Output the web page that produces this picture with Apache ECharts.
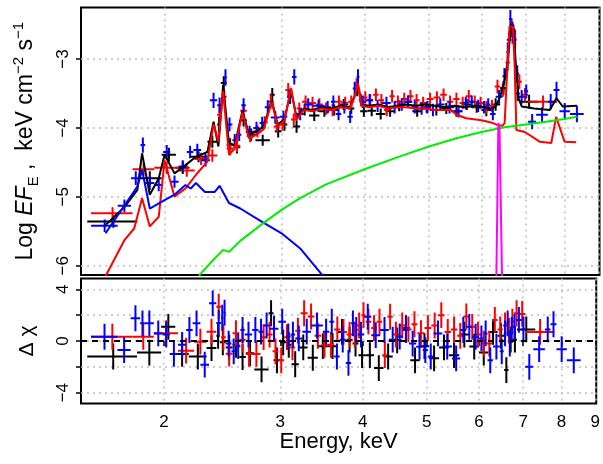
<!DOCTYPE html>
<html>
<head>
<meta charset="utf-8">
<script src="https://cdn.jsdelivr.net/npm/echarts@6.0.0/dist/echarts.min.js"></script>
<style>
html, body { margin: 0; padding: 0; background: #fff; }
#main { width: 603px; height: 464px; }
</style>
</head>
<body>
<div id="main"></div>
<script>
// axis ranges / ticks
const eMin = 1.497, eMax = 9.03;
const xTicks = [2, 3, 4, 5, 6, 7, 8, 9];
const fluxTicks = [-6, -5, -4, -3];
const residTicks = [-4, -2, 0, 2, 4];
const residLabels = [-4, 0, 4];

// black data set: bin edges (keV), log EF_E, error, residual
const blackEdges = [1.53,1.82,1.98,2.08,2.18,2.32,2.40,2.43,2.48,2.54,
  2.60,2.66,2.74,2.88,2.93,3.00,3.06,3.12,3.20,3.30,
  3.42,3.54,3.66,3.78,3.86,3.94,4.04,4.16,4.30,4.44,
  4.58,4.72,4.88,5.04,5.22,5.40,5.60,5.80,6.00,6.20,
  6.40,6.55,6.65,6.75,6.85,7.30];
const blackFlux = [-5.36,-4.73,-4.39,-4.58,-4.42,-4.20,-3.95,-3.35,-4.25,-4.28,
  -3.89,-4.10,-4.18,-3.52,-4.05,-3.95,-3.55,-3.98,-3.74,-3.82,
  -3.76,-3.74,-3.66,-3.72,-3.45,-3.76,-3.75,-3.80,-3.76,-3.68,
  -3.62,-3.76,-3.70,-3.74,-3.72,-3.76,-3.66,-3.70,-3.74,-3.66,
  -3.42,-2.72,-2.62,-3.50,-3.62];
const blackErr = [0.09,0.10,0.10,0.09,0.08,0.09,0.11,0.10,0.10,0.09,
  0.09,0.09,0.08,0.10,0.09,0.09,0.10,0.09,0.08,0.08,
  0.08,0.08,0.08,0.08,0.09,0.08,0.08,0.08,0.08,0.08,
  0.08,0.08,0.08,0.08,0.08,0.08,0.08,0.08,0.09,0.09,
  0.10,0.12,0.12,0.11,0.10];
const blackResid = [-1.2,-0.9,1.1,-1.0,-1.2,-0.55,0.4,-0.1,-0.5,-0.3,
  -1.24,-0.94,-2.2,2.15,-1.5,-0.1,-0.3,-1.8,-0.5,-1.3,
  -0.4,-0.4,0.7,0.1,-0.2,-1.1,-1.1,-2.1,-1.2,0.05,
  1.0,-1.5,-0.4,-1.34,-0.5,-1.1,0.5,-0.43,-0.9,0.7,
  0.4,-2.25,0.1,0.1,0.9];

// red data set
const redEdges = [1.55,1.79,1.93,2.10,2.22,2.32,2.40,2.44,2.48,2.54,
  2.60,2.66,2.72,2.80,2.86,2.92,2.98,3.04,3.10,3.16,
  3.22,3.30,3.38,3.46,3.54,3.62,3.70,3.78,3.86,3.92,
  3.98,4.04,4.12,4.20,4.28,4.36,4.44,4.54,4.64,4.74,
  4.84,4.96,5.08,5.20,5.32,5.44,5.56,5.68,5.80,5.92,
  6.04,6.16,6.28,6.40,6.52,6.62,6.70,6.78,6.90,7.05,7.80];
const redFlux = [-5.24,-4.60,-4.58,-4.62,-4.45,-4.40,-3.81,-3.55,-4.30,-4.26,
  -3.75,-4.12,-4.05,-3.92,-3.62,-3.98,-3.95,-3.45,-3.88,-3.72,
  -3.62,-3.64,-3.66,-3.72,-3.74,-3.62,-3.64,-3.62,-3.38,-3.60,
  -3.56,-3.60,-3.52,-3.60,-3.74,-3.54,-3.62,-3.58,-3.54,-3.60,
  -3.64,-3.58,-3.56,-3.52,-3.62,-3.58,-3.64,-3.54,-3.62,-3.64,
  -3.70,-3.68,-3.40,-3.45,-3.05,-2.55,-2.72,-3.33,-3.52,-3.62];
const redErr = [0.09,0.09,0.09,0.09,0.09,0.09,0.11,0.10,0.10,0.09,
  0.09,0.09,0.09,0.09,0.10,0.09,0.09,0.10,0.09,0.09,
  0.09,0.09,0.09,0.09,0.09,0.09,0.09,0.09,0.10,0.09,
  0.09,0.09,0.09,0.09,0.09,0.09,0.09,0.09,0.09,0.09,
  0.09,0.09,0.09,0.09,0.09,0.09,0.09,0.09,0.09,0.09,
  0.09,0.09,0.10,0.10,0.12,0.14,0.14,0.11,0.10,0.09];
const redResid = [0.33,0.33,0.6,-0.75,-0.05,0.72,2.66,0.3,-0.98,0.6,
  0.1,-1.0,-1.0,0.3,0.5,-0.8,-1.5,0.3,-0.5,0.8,
  2.15,1.9,0.4,-0.3,-0.3,0.9,0.7,0.5,0.5,1.2,
  2.0,1.5,1.0,1.5,-1.1,1.88,0.5,1.2,0.9,1.3,
  0.6,1.0,1.2,2.0,0.7,0.9,0.4,1.9,1.1,0.5,
  -0.2,-0.2,1.63,0.9,1.2,0.8,1.5,2.15,2.1,0.7];

// blue data set
const blueEdges = [1.55,1.70,1.78,1.84,1.87,1.93,1.99,2.04,2.10,2.16,
  2.21,2.27,2.34,2.40,2.44,2.46,2.48,2.53,2.57,2.61,
  2.65,2.72,2.78,2.83,2.89,2.98,3.06,3.11,3.16,3.24,
  3.34,3.48,3.56,3.62,3.69,3.77,3.84,3.89,3.93,4.02,
  4.12,4.25,4.38,4.50,4.60,4.70,4.82,4.93,5.02,5.12,
  5.28,5.46,5.62,5.74,5.86,6.00,6.10,6.18,6.30,6.45,
  6.54,6.60,6.66,6.70,6.75,6.83,6.96,7.05,7.25,7.55,
  7.70,7.86,8.15,8.55];
const blueFlux = [-5.42,-5.13,-4.73,-4.25,-4.80,-4.83,-4.35,-4.78,-4.56,-4.35,
  -4.32,-4.47,-3.60,-3.67,-3.50,-3.27,-3.95,-4.18,-4.10,-3.67,
  -4.06,-4.00,-3.93,-3.70,-3.85,-3.84,-3.55,-3.26,-3.80,-3.66,
  -3.68,-3.70,-3.62,-3.80,-3.70,-3.84,-3.43,-3.26,-3.62,-3.60,
  -3.68,-3.64,-3.70,-3.66,-3.62,-3.70,-3.72,-3.70,-3.74,-3.66,
  -3.70,-3.76,-3.64,-3.62,-3.68,-3.70,-3.66,-3.80,-3.55,-3.25,
  -2.90,-2.42,-2.62,-2.70,-3.21,-3.55,-3.47,-3.91,-3.81,-3.62,
  -3.45,-3.76,-3.80];
const blueErr = [0.09,0.09,0.10,0.11,0.10,0.09,0.10,0.09,0.09,0.09,
  0.09,0.09,0.11,0.11,0.12,0.12,0.10,0.09,0.09,0.10,
  0.09,0.09,0.09,0.10,0.09,0.09,0.10,0.11,0.09,0.09,
  0.09,0.09,0.09,0.09,0.09,0.09,0.10,0.11,0.09,0.09,
  0.09,0.09,0.09,0.09,0.09,0.09,0.09,0.09,0.09,0.09,
  0.09,0.09,0.09,0.09,0.09,0.09,0.09,0.09,0.10,0.12,
  0.14,0.13,0.16,0.14,0.12,0.10,0.10,0.11,0.11,0.11,
  0.12,0.12,0.12];
const blueResid = [0.33,-0.7,1.76,1.37,1.37,0.59,0.5,-1.0,-0.3,0.85,
  1.37,-1.83,2.92,1.4,1.8,2.2,-0.2,-0.8,-0.4,0.85,
  0.5,0.85,0.72,1.2,0.95,1.5,0.35,0.5,0.2,0.72,
  1.2,0.72,1.5,-1.2,0.1,-1.7,1.37,0.85,0.5,1.88,
  0.45,0.85,0.1,0.35,0.85,-0.2,-0.45,-0.7,-1.2,0.59,
  -0.43,-1.35,0.85,1.1,0.33,0.2,0.59,-1.5,-0.43,-0.8,
  0.59,1.37,-0.2,0.85,1.1,1.63,0.9,-2.0,-0.63,0.9,
  1.3,-0.63,-1.5];

// model curves [keV, log EF_E]
const totalModel = [[1.63,-5.41],[1.74,-5.15],[1.82,-4.90],[1.85,-4.37],[1.90,-4.97],[1.96,-4.73],
  [2.00,-4.39],[2.07,-4.66],[2.15,-4.54],[2.23,-4.42],[2.32,-4.35],[2.37,-3.91],[2.41,-4.27],
  [2.45,-3.38],[2.50,-4.22],[2.55,-4.25],[2.62,-3.75],[2.68,-4.10],[2.75,-4.05],[2.82,-3.98],
  [2.90,-3.60],[2.96,-3.95],[3.03,-3.88],[3.10,-3.45],[3.16,-3.85],[3.24,-3.72],[3.34,-3.74],
  [3.44,-3.70],[3.56,-3.72],[3.68,-3.68],[3.80,-3.70],[3.86,-3.55],[3.91,-3.38],[3.96,-3.66],
  [4.06,-3.68],[4.20,-3.66],[4.34,-3.70],[4.48,-3.68],[4.62,-3.66],[4.78,-3.68],[4.94,-3.66],
  [5.10,-3.68],[5.28,-3.70],[5.46,-3.68],[5.66,-3.70],[5.86,-3.68],[6.06,-3.70],[6.20,-3.72],
  [6.30,-3.69],[6.40,-3.55],[6.50,-3.30],[6.58,-3.00],[6.64,-2.50],[6.70,-2.55],[6.76,-3.10],
  [6.82,-3.57],[6.90,-3.69],[7.20,-3.72],[7.60,-3.74],[7.78,-3.57],[7.95,-3.69],[8.35,-3.68]];
const hotModel = [[1.60,-6.30],[1.74,-5.63],[1.80,-5.46],[1.85,-5.02],[1.90,-5.43],[1.96,-5.29],
  [2.00,-4.47],[2.07,-5.00],[2.15,-4.88],[2.23,-4.68],[2.32,-4.49],[2.37,-3.95],[2.41,-4.20],
  [2.45,-3.47],[2.50,-4.39],[2.55,-4.30],[2.62,-3.78],[2.68,-4.15],[2.75,-4.10],[2.82,-4.02],
  [2.90,-3.62],[2.96,-3.98],[3.03,-3.90],[3.10,-3.42],[3.16,-3.88],[3.24,-3.74],[3.34,-3.76],
  [3.44,-3.72],[3.56,-3.74],[3.68,-3.70],[3.80,-3.72],[3.86,-3.56],[3.91,-3.36],[3.96,-3.68],
  [4.06,-3.70],[4.20,-3.68],[4.34,-3.72],[4.48,-3.70],[4.62,-3.70],[4.78,-3.72],[4.94,-3.72],
  [5.10,-3.74],[5.25,-3.74],[5.40,-3.74],[5.50,-3.81],[5.69,-3.86],[6.00,-3.89],[6.24,-3.93],
  [6.35,-3.96],[6.45,-3.97],[6.50,-3.93],[6.54,-3.40],[6.61,-2.53],[6.69,-2.53],[6.73,-3.11],
  [6.77,-4.03],[6.97,-4.06],[7.34,-4.20],[7.64,-4.22],[7.77,-3.84],[8.00,-4.20],[8.33,-4.21]];
const coolModel = [[1.63,-5.53],[1.82,-4.85],[1.85,-4.61],[1.90,-5.17],[2.00,-5.05],[2.07,-4.97],
  [2.15,-4.83],[2.19,-4.88],[2.23,-4.80],[2.30,-4.93],[2.38,-4.93],[2.42,-4.84],[2.50,-5.09],
  [2.60,-5.17],[2.80,-5.36],[3.00,-5.53],[3.20,-5.75],[3.45,-6.13],[3.55,-6.30]];
const powerModel = [[2.22,-6.35],[2.26,-6.13],[2.35,-5.95],[2.45,-5.77],[2.50,-5.80],[2.60,-5.64],
  [2.80,-5.40],[3.00,-5.19],[3.20,-5.02],[3.50,-4.82],[4.00,-4.60],[4.50,-4.42],[5.00,-4.27],
  [5.50,-4.15],[6.00,-4.06],[6.50,-3.99],[7.00,-3.95],[7.50,-3.91],[8.00,-3.87],[8.35,-3.84]];
const ironLine = [[6.31,-6.50],[6.36,-3.93],[6.385,-4.00],[6.45,-6.50]];

const fontFamily = 'Liberation Sans, Arial, Helvetica, sans-serif';
const lg = Math.log10;

function crosses(edges, vals, errs) {
    return vals.map(function (v, i) {
        return [lg(edges[i]), lg(edges[i + 1]), lg((edges[i] + edges[i + 1]) / 2), v, errs[i]];
    });
}
function resid(edges, vals) {
    // residuals in sigma units: error bar is +-1
    return crosses(edges, vals, vals.map(function () { return 1; }));
}
function curve(pts) {
    return pts.map(function (p) { return [lg(p[0]), p[1]]; });
}

function renderCross(params, api) {
    const y = api.value(3), dy = api.value(4);
    const a = api.coord([api.value(0), y]);
    const b = api.coord([api.value(1), y]);
    const t = api.coord([api.value(2), y + dy]);
    const s = api.coord([api.value(2), y - dy]);
    const style = { stroke: api.visual('color'), lineWidth: 2 };
    return {
        type: 'group',
        children: [
            { type: 'line', shape: { x1: a[0], y1: a[1], x2: b[0], y2: b[1] }, style: style },
            { type: 'line', shape: { x1: t[0], y1: t[1], x2: s[0], y2: s[1] }, style: style }
        ]
    };
}

function crossSeries(data, color, idx) {
    return {
        type: 'custom', xAxisIndex: idx, yAxisIndex: idx, renderItem: renderCross,
        itemStyle: { color: color }, encode: { x: [0, 1, 2], y: 3 }, clip: true, data: data
    };
}
function lineSeries(data, color, idx) {
    return {
        type: 'line', xAxisIndex: idx, yAxisIndex: idx, data: data, symbol: 'none',
        lineStyle: { color: color, width: 2 }, itemStyle: { color: color }, clip: true
    };
}

const gridLine = { show: true, lineStyle: { color: '#bdbdbd', type: [2, 4], width: 1.5 } };
const tickStyle = { color: '#000', width: 1.5 };
const minus = function (v) { return String(v).replace('-', '\u2212'); };
const xTickLog = xTicks.map(lg);

const chart = echarts.init(document.getElementById('main'));
chart.setOption({
    animation: false,
    backgroundColor: '#fff',
    textStyle: { fontFamily: fontFamily },
    grid: [
        { left: 81, right: 3.5, top: 7.5, height: 267.5, show: true, borderColor: '#000', borderWidth: 2 },
        { left: 81, right: 3.5, top: 278.5, height: 125, show: true, borderColor: '#000', borderWidth: 2 }
    ],
    xAxis: [
        {
            type: 'value', gridIndex: 0, min: lg(eMin), max: lg(eMax),
            axisLine: { show: false },
            axisTick: { show: false, customValues: xTickLog },
            axisLabel: { show: false },
            splitLine: gridLine
        },
        {
            type: 'value', gridIndex: 1, min: lg(eMin), max: lg(eMax),
            name: 'Energy, keV', nameLocation: 'middle', nameGap: 25,
            nameTextStyle: { fontSize: 22, color: '#000', fontFamily: fontFamily },
            axisLine: { show: false },
            axisTick: { show: true, length: 5, customValues: xTickLog, lineStyle: tickStyle },
            axisLabel: {
                customValues: xTickLog, margin: 10, fontSize: 17, color: '#000', fontFamily: fontFamily,
                formatter: function (v) { return String(Math.round(Math.pow(10, v))); }
            },
            splitLine: gridLine
        }
    ],
    yAxis: [
        {
            type: 'value', gridIndex: 0, min: -6.135, max: -2.253,
            name: '{n|Log }{i|EF}{sub|E}{n| ,  keV cm}{sup|\u22122}{n| s}{sup|\u22121}',
            nameLocation: 'middle', nameGap: 40, nameRotate: 90,
            nameTextStyle: {
                color: '#000', fontFamily: fontFamily, fontSize: 23,
                rich: {
                    n: { fontSize: 23, lineHeight: 30, fontFamily: fontFamily, color: '#000' },
                    i: { fontSize: 23, lineHeight: 30, fontStyle: 'italic', fontFamily: fontFamily, color: '#000' },
                    sub: { fontSize: 15, verticalAlign: 'bottom', lineHeight: 17, fontFamily: fontFamily, color: '#000' },
                    sup: { fontSize: 15, verticalAlign: 'top', lineHeight: 17, fontFamily: fontFamily, color: '#000' }
                }
            },
            axisLine: { show: false },
            axisTick: { show: true, length: 5, customValues: fluxTicks, lineStyle: tickStyle },
            axisLabel: {
                customValues: fluxTicks, rotate: 90, margin: 9, fontSize: 17, color: '#000',
                fontFamily: fontFamily, formatter: minus
            },
            splitLine: gridLine
        },
        {
            type: 'value', gridIndex: 1, min: -4.84, max: 4.84,
            name: '\u0394 \u03c7', nameLocation: 'middle', nameGap: 43, nameRotate: 90,
            nameTextStyle: { fontSize: 21, color: '#000', fontFamily: fontFamily },
            axisLine: { show: false },
            axisTick: { show: true, length: 5, customValues: residTicks, lineStyle: tickStyle },
            axisLabel: {
                customValues: residLabels, rotate: 90, margin: 9, fontSize: 17, color: '#000',
                fontFamily: fontFamily, formatter: minus
            },
            splitLine: gridLine
        }
    ],
    series: [
        crossSeries(crosses(blackEdges, blackFlux, blackErr), '#000000', 0),
        crossSeries(crosses(redEdges, redFlux, redErr), '#ff0000', 0),
        crossSeries(crosses(blueEdges, blueFlux, blueErr), '#0000ff', 0),
        lineSeries(curve(totalModel), '#000000', 0),
        lineSeries(curve(hotModel), '#ff0000', 0),
        lineSeries(curve(coolModel), '#0000ff', 0),
        lineSeries(curve(powerModel), '#00ee00', 0),
        lineSeries(curve(ironLine), '#ff00ff', 0),
        crossSeries(resid(blackEdges, blackResid), '#000000', 1),
        crossSeries(resid(redEdges, redResid), '#ff0000', 1),
        crossSeries(resid(blueEdges, blueResid), '#0000ff', 1),
        {
            type: 'line', xAxisIndex: 1, yAxisIndex: 1, symbol: 'none',
            data: [[lg(eMin), 0], [lg(eMax), 0]],
            lineStyle: { color: '#000', width: 2, type: [6, 5] }
        }
    ]
});
</script>
</body>
</html>
